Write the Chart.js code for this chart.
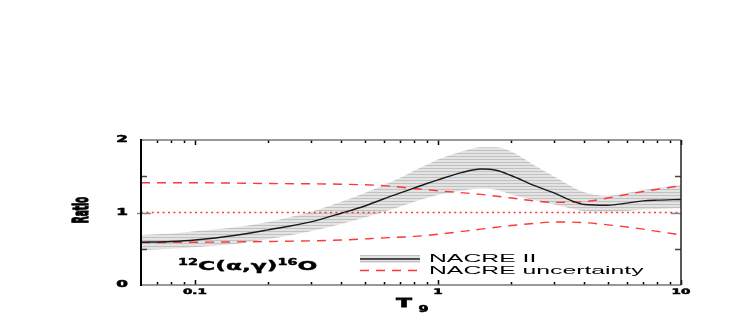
<!DOCTYPE html>
<html>
<head>
<meta charset="utf-8">
<script src="https://cdn.jsdelivr.net/npm/chart.js@4/dist/chart.umd.min.js"></script>
<style>
  body { margin: 0; background: #fff; }
  #wrap { width: 747px; height: 320px; }
</style>
</head>
<body>
<div id="wrap"><canvas id="ratioChart" width="747" height="320"></canvas></div>
<script>
// temperature grid (T9) for the NACRE II band
const bandT = [0.06, 0.08, 0.1, 0.15, 0.2, 0.3, 0.4, 0.5, 0.6, 0.7, 0.8, 0.9, 1, 1.25, 1.5, 1.75, 2, 2.5, 3, 3.5, 4, 5, 6, 7, 8, 10];
const nacre2Mid = [0.59, 0.60, 0.62, 0.69, 0.76, 0.87, 0.99, 1.09, 1.19, 1.27, 1.34, 1.40, 1.45, 1.55, 1.60, 1.58, 1.51, 1.37, 1.27, 1.17, 1.11, 1.10, 1.13, 1.16, 1.17, 1.18];
const nacre2High = [0.69, 0.71, 0.74, 0.80, 0.87, 1.01, 1.15, 1.27, 1.38, 1.48, 1.58, 1.66, 1.73, 1.84, 1.90, 1.90, 1.84, 1.65, 1.50, 1.37, 1.28, 1.23, 1.27, 1.31, 1.34, 1.38];
const nacre2Low = [0.48, 0.50, 0.52, 0.57, 0.63, 0.74, 0.84, 0.93, 1.01, 1.08, 1.15, 1.20, 1.24, 1.30, 1.33, 1.31, 1.25, 1.17, 1.11, 1.06, 1.02, 1.01, 1.02, 1.04, 1.05, 1.06];

// old NACRE uncertainty limits
const nacreT = [0.06, 0.1, 0.2, 0.4, 0.6, 0.8, 1, 1.5, 2, 2.5, 3, 4, 5, 6, 7, 8, 10];
const nacreHigh = [1.41, 1.41, 1.40, 1.39, 1.37, 1.33, 1.30, 1.25, 1.20, 1.16, 1.14, 1.15, 1.20, 1.25, 1.29, 1.32, 1.37];
const nacreLow = [0.585, 0.59, 0.60, 0.62, 0.65, 0.67, 0.70, 0.77, 0.82, 0.85, 0.87, 0.86, 0.83, 0.80, 0.77, 0.74, 0.69];

const unityT = [0.06, 10];
const unityRatio = [1, 1];

const xMajorTicks = [0.1, 1, 10];
const xMinorTicks = [0.07, 0.08, 0.09, 0.2, 0.3, 0.4, 0.5, 0.6, 0.7, 0.8, 0.9, 2, 3, 4, 5, 6, 7, 8, 9];
const yMajorTicks = [0, 1, 2];
const yMinorTicks = [0.5, 1.5];
const xTickLabels = ["0.1", "1", "10"];
const yTickLabels = ["0", "1", "2"];

const RED = "rgb(255,55,55)";
const HEAVY = "'DejaVu Sans'";

function pts(xs, ys) {
    return xs.map((x, i) => ({ x: x, y: ys[i] }));
}

function hatch() {
    const c = document.createElement("canvas");
    c.width = 6;
    c.height = 3;
    const g = c.getContext("2d");
    g.fillStyle = "#e3e3e3";
    g.fillRect(0, 0, 6, 3);
    g.fillStyle = "#c2c2c2";
    g.fillRect(0, 0, 6, 1);
    return g.createPattern(c, "repeat");
}

// text in the figure is horizontally stretched; heavy adds a thin outline
function wideText(ctx, text, x, y, font, sx, align, heavy) {
    ctx.save();
    ctx.font = font;
    ctx.translate(x, y);
    ctx.scale(sx, 1);
    ctx.textAlign = align || "left";
    ctx.textBaseline = "middle";
    ctx.fillStyle = "#000";
    ctx.fillText(text, 0, 0);
    if (heavy) {
        ctx.strokeStyle = "#000";
        ctx.lineWidth = heavy;
        ctx.strokeText(text, 0, 0);
    }
    ctx.restore();
}

const bandFill = hatch();

const framePlugin = {
    id: "frame",
    afterDatasetsDraw(chart) {
        const ctx = chart.ctx;
        const a = chart.chartArea;
        const xs = chart.scales.x;
        const ys = chart.scales.y;
        ctx.save();
        ctx.lineCap = "butt";
        ctx.strokeStyle = "#000";
        ctx.lineWidth = 1.5;
        xMinorTicks.concat(xMajorTicks).forEach((v) => {
            const px = Math.round(xs.getPixelForValue(v)) + 0.5;
            const len = xMajorTicks.includes(v) ? 5 : 3;
            ctx.beginPath();
            ctx.moveTo(px, a.top);
            ctx.lineTo(px, a.top + len);
            ctx.moveTo(px, a.bottom);
            ctx.lineTo(px, a.bottom - len);
            ctx.stroke();
        });
        ctx.strokeStyle = "#444";
        yMinorTicks.forEach((v) => {
            const py = Math.round(ys.getPixelForValue(v)) + 0.5;
            ctx.beginPath();
            ctx.moveTo(a.left, py);
            ctx.lineTo(a.left + 6, py);
            ctx.moveTo(a.right, py);
            ctx.lineTo(a.right - 6, py);
            ctx.stroke();
        });
        ctx.strokeStyle = "#888";
        const p1 = Math.round(ys.getPixelForValue(1)) + 0.5;
        ctx.beginPath();
        ctx.moveTo(a.left - 4, p1);
        ctx.lineTo(a.left + 10, p1);
        ctx.moveTo(a.right, p1);
        ctx.lineTo(a.right - 10, p1);
        ctx.stroke();

        ctx.strokeStyle = "#777";
        ctx.lineWidth = 1.5;
        ctx.beginPath();
        ctx.moveTo(a.left, a.top);
        ctx.lineTo(a.right, a.top);
        ctx.moveTo(a.left, a.bottom);
        ctx.lineTo(a.right, a.bottom);
        ctx.stroke();
        ctx.strokeStyle = "#222";
        ctx.beginPath();
        ctx.moveTo(a.right, a.top);
        ctx.lineTo(a.right, a.bottom);
        ctx.stroke();
        ctx.strokeStyle = "#000";
        ctx.lineWidth = 2;
        ctx.beginPath();
        ctx.moveTo(a.left, a.top - 1);
        ctx.lineTo(a.left, a.bottom + 1);
        ctx.stroke();
        ctx.restore();
    },
    afterDraw(chart) {
        const ctx = chart.ctx;
        const a = chart.chartArea;
        const xs = chart.scales.x;
        const ys = chart.scales.y;

        // tick labels
        xMajorTicks.forEach((v, i) => {
            wideText(ctx, xTickLabels[i], xs.getPixelForValue(v), a.bottom + 7, "bold 7.5px " + HEAVY, 1.8, "center", 0.5);
        });
        yMajorTicks.forEach((v, i) => {
            wideText(ctx, yTickLabels[i], a.left - 13, ys.getPixelForValue(v), "bold 8px " + HEAVY, 2.1, "right", 0.5);
        });

        // axis titles
        ctx.save();
        ctx.translate(82.5, 210);
        ctx.scale(2.4, 1);
        ctx.rotate(-Math.PI / 2);
        ctx.font = "bold 9px " + HEAVY;
        ctx.textAlign = "center";
        ctx.textBaseline = "middle";
        ctx.fillStyle = "#000";
        ctx.fillText("Ratio", 0, 0);
        ctx.strokeStyle = "#000";
        ctx.lineWidth = 0.6;
        ctx.strokeText("Ratio", 0, 0);
        ctx.restore();
        wideText(ctx, "T", 404, 304, "bold 13px " + HEAVY, 1.75, "center", 0.8);
        wideText(ctx, "9", 423.5, 309.5, "bold 8px " + HEAVY, 1.8, "center", 0.5);

        // reaction label
        const parts = [
            { t: "12", sup: true },
            { t: "C(\u03b1,\u03b3)", sup: false },
            { t: "16", sup: true },
            { t: "O", sup: false },
        ];
        const sx = 1.8;
        let x = 178;
        parts.forEach((p) => {
            const font = p.sup ? "bold 8px " + HEAVY : "bold 13px " + HEAVY;
            ctx.save();
            ctx.font = font;
            const w = ctx.measureText(p.t).width * sx;
            ctx.restore();
            wideText(ctx, p.t, x, p.sup ? 263 : 267, font, sx, "left", 0.4);
            x += w;
        });

        // legend
        ctx.save();
        ctx.fillStyle = bandFill;
        ctx.fillRect(360, 255, 60, 8);
        ctx.strokeStyle = "#222";
        ctx.lineWidth = 1.3;
        ctx.beginPath();
        ctx.moveTo(360, 259);
        ctx.lineTo(420, 259);
        ctx.stroke();
        ctx.strokeStyle = RED;
        ctx.lineWidth = 1.4;
        ctx.setLineDash([9, 7]);
        ctx.beginPath();
        ctx.moveTo(360, 270.5);
        ctx.lineTo(420, 270.5);
        ctx.stroke();
        ctx.restore();
        wideText(ctx, "NACRE II", 429, 259, "11px 'Liberation Sans'", 2.25, "left");
        wideText(ctx, "NACRE uncertainty", 429, 270.5, "11px 'Liberation Sans'", 2.25, "left");
    },
};

new Chart(document.getElementById("ratioChart"), {
    type: "line",
    data: {
        datasets: [
            {
                label: "NACRE II",
                data: pts(bandT, nacre2Mid),
                borderColor: "#1a1a1a",
                borderWidth: 1.4,
                pointRadius: 0,
                fill: false,
                cubicInterpolationMode: "monotone",
                order: 0,
            },
            {
                label: "NACRE high",
                data: pts(nacreT, nacreHigh),
                borderColor: RED,
                borderWidth: 1.4,
                borderDash: [9, 7],
                pointRadius: 0,
                fill: false,
                cubicInterpolationMode: "monotone",
                order: 1,
            },
            {
                label: "NACRE low",
                data: pts(nacreT, nacreLow),
                borderColor: RED,
                borderWidth: 1.4,
                borderDash: [9, 7],
                pointRadius: 0,
                fill: false,
                cubicInterpolationMode: "monotone",
                order: 1,
            },
            {
                label: "unity",
                data: pts(unityT, unityRatio),
                borderColor: RED,
                borderWidth: 1.6,
                borderDash: [2, 3.4],
                pointRadius: 0,
                fill: false,
                order: 2,
            },
            {
                label: "band high",
                data: pts(bandT, nacre2High),
                borderWidth: 0,
                borderColor: "rgba(0,0,0,0)",
                backgroundColor: bandFill,
                pointRadius: 0,
                fill: "+1",
                cubicInterpolationMode: "monotone",
                order: 3,
            },
            {
                label: "band low",
                data: pts(bandT, nacre2Low),
                borderWidth: 0,
                borderColor: "rgba(0,0,0,0)",
                pointRadius: 0,
                fill: false,
                cubicInterpolationMode: "monotone",
                order: 3,
            },
        ],
    },
    options: {
        responsive: false,
        animation: false,
        layout: {
            padding: { top: 140, right: 66, left: 0, bottom: 0 },
        },
        scales: {
            x: {
                type: "logarithmic",
                min: 0.06,
                max: 10,
                grid: { display: false },
                border: { display: false },
                ticks: { display: false },
                afterFit: (scale) => { scale.height = 35; },
            },
            y: {
                min: 0,
                max: 2,
                grid: { display: false },
                border: { display: false },
                ticks: { display: false },
                afterFit: (scale) => { scale.width = 141; },
            },
        },
        plugins: {
            legend: { display: false },
            title: { display: false },
            tooltip: { enabled: false },
        },
    },
    plugins: [framePlugin],
});
</script>
</body>
</html>
